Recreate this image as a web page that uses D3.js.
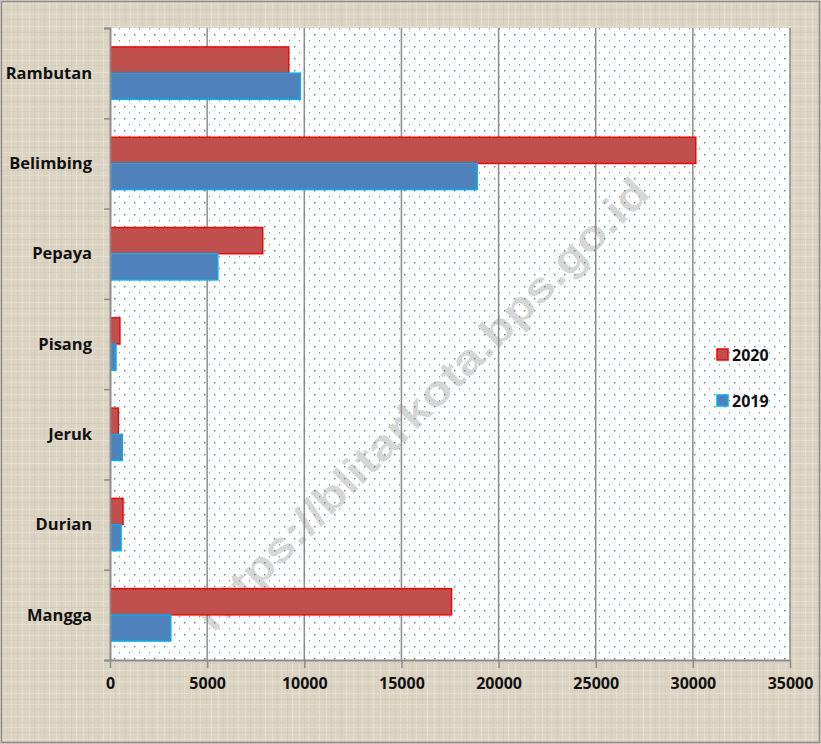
<!DOCTYPE html>
<html>
<head>
<meta charset="utf-8">
<script src="https://cdn.jsdelivr.net/npm/d3@7"></script>
<style>
  html, body { margin: 0; padding: 0; background: #fff; }
  svg { display: block; }
</style>
</head>
<body>
<div id="chart"></div>
<script>
// data
const categories = ["Rambutan", "Belimbing", "Pepaya", "Pisang", "Jeruk", "Durian", "Mangga"];
const series = ["2020", "2019"];
const values2020 = [9200, 30150, 7860, 510, 430, 670, 17580];
const values2019 = [9800, 18900, 5550, 310, 630, 570, 3130];
const xTicks = [0, 5000, 10000, 15000, 20000, 25000, 30000, 35000];

const width = 821, height = 744;
const margin = { top: 28, right: 31, bottom: 84, left: 110 };
const innerW = width - margin.left - margin.right;
const innerH = height - margin.top - margin.bottom;
const font = "'Open Sans', sans-serif";

const colors = {
  "2020": { fill: "#c0504d", stroke: "#ff0000" },
  "2019": { fill: "#4f81bd", stroke: "#00b0f0" },
};

const svg = d3.select("#chart").append("svg")
  .attr("width", width).attr("height", height)
  .style("font-family", font);

const defs = svg.append("defs");

// linen-like background
const lw = 27, lh = 23;
const linen = defs.append("pattern").attr("id", "linen")
  .attr("patternUnits", "userSpaceOnUse").attr("width", lw).attr("height", lh);
linen.append("rect").attr("width", lw).attr("height", lh).attr("fill", "#dcd4c3");
[[2, "#e8e1d3"], [7, "#d2c9b6"], [11, "#e6dfd0"], [17, "#d4cbb8"], [22, "#e9e3d6"]].forEach(([p, c]) =>
  linen.append("rect").attr("x", p).attr("width", 1).attr("height", lh).attr("fill", c).attr("opacity", 0.8));
[[3, "#e7e0d2"], [9, "#d3cab7"], [14, "#e5ded0"], [19, "#d6cdbb"]].forEach(([p, c]) =>
  linen.append("rect").attr("y", p).attr("width", lw).attr("height", 1).attr("fill", c).attr("opacity", 0.8));

// dotted plot area
const dots = defs.append("pattern").attr("id", "dots")
  .attr("patternUnits", "userSpaceOnUse").attr("width", 10).attr("height", 12)
  .attr("x", margin.left).attr("y", margin.top);
dots.append("rect").attr("width", 10).attr("height", 12).attr("fill", "#fdfffe");
dots.append("rect").attr("x", 4).attr("y", 2).attr("width", 1.4).attr("height", 1.4).attr("fill", "#557f80");
dots.append("rect").attr("x", 9).attr("y", 8).attr("width", 1.4).attr("height", 1.4).attr("fill", "#6f9a9a");

svg.append("rect").attr("width", width).attr("height", height).attr("fill", "url(#linen)");
svg.append("rect").attr("x", 1.5).attr("y", 1.5).attr("width", width - 3).attr("height", height - 3)
  .attr("fill", "none").attr("stroke", "#8a8a8a").attr("stroke-width", 1.5);

const g = svg.append("g").attr("transform", `translate(${margin.left},${margin.top})`);

g.append("rect").attr("width", innerW).attr("height", innerH).attr("fill", "url(#dots)");

const x = d3.scaleLinear().domain([0, 35000]).range([0, innerW]);
const y = d3.scaleBand().domain(categories).range([0, innerH]).paddingInner(0.42).paddingOuter(0.21);
const ySub = d3.scaleBand().domain(series).range([0, y.bandwidth()]);

// gridlines
g.selectAll(".grid").data(xTicks.slice(1)).join("line")
  .attr("x1", d => x(d)).attr("x2", d => x(d))
  .attr("y1", 0).attr("y2", innerH)
  .attr("stroke", "#8c8c8c").attr("stroke-width", 1.5);

// watermark
g.append("text")
  .attr("transform", `translate(${422 - margin.left},${404 - margin.top}) rotate(-45)`)
  .attr("text-anchor", "middle").attr("dy", "0.35em")
  .attr("font-family", "'Liberation Sans', Arial, sans-serif")
  .attr("font-size", 42).attr("font-weight", "bold")
  .attr("fill", "#8a8a8a").attr("fill-opacity", 0.36)
  .attr("textLength", 620).attr("lengthAdjust", "spacingAndGlyphs")
  .text("https://blitarkota.bps.go.id");

// bars
const rows = categories.map((c, i) => ({ c, v: { "2020": values2020[i], "2019": values2019[i] } }));
const groups = g.selectAll(".cat").data(rows).join("g")
  .attr("transform", d => `translate(0,${y(d.c)})`);
groups.selectAll("rect").data(d => series.map(s => ({ s, v: d.v[s] }))).join("rect")
  .attr("x", 0.75)
  .attr("y", d => ySub(d.s))
  .attr("width", d => x(d.v) - 0.75)
  .attr("height", ySub.bandwidth())
  .attr("fill", d => colors[d.s].fill)
  .attr("stroke", d => colors[d.s].stroke)
  .attr("stroke-width", 1.5);

// axes
const yAxis = g.append("g").call(
  d3.axisLeft(d3.scaleLinear().domain([0, categories.length]).range([0, innerH]))
    .ticks(categories.length).tickSize(6).tickFormat(""));
yAxis.select(".domain").attr("stroke", "#8c8c8c").attr("stroke-width", 2);
yAxis.selectAll(".tick line").attr("stroke", "#8c8c8c").attr("stroke-width", 1.5);

g.selectAll(".ylabel").data(categories).join("text")
  .attr("x", -18).attr("y", d => y(d) + y.bandwidth() / 2)
  .attr("dy", "0.35em").attr("text-anchor", "end")
  .attr("font-size", 16.5).attr("font-weight", "bold").attr("fill", "#111")
  .text(d => d);

const xAxis = g.append("g").attr("transform", `translate(0,${innerH})`)
  .call(d3.axisBottom(x).tickValues(xTicks).tickSize(8).tickSizeOuter(0).tickPadding(10).tickFormat(d3.format("d")));
xAxis.select(".domain").attr("stroke", "#8c8c8c").attr("stroke-width", 2);
xAxis.selectAll(".tick text").attr("font-size", 16).attr("font-weight", "bold").attr("fill", "#111")
  .attr("font-family", font);
xAxis.selectAll(".tick line").attr("stroke", "#8c8c8c").attr("stroke-width", 1.5);

// legend
const legend = svg.append("g").attr("transform", "translate(717,349)");
const li = legend.selectAll("g").data(series).join("g")
  .attr("transform", (d, i) => `translate(0,${i * 46})`);
li.append("rect").attr("width", 11).attr("height", 11)
  .attr("fill", d => colors[d].fill).attr("stroke", d => colors[d].stroke).attr("stroke-width", 1.5);
li.append("text").attr("x", 15).attr("y", 6).attr("dy", "0.35em")
  .attr("font-size", 16).attr("font-weight", "bold").attr("fill", "#111")
  .text(d => d);
</script>
</body>
</html>
